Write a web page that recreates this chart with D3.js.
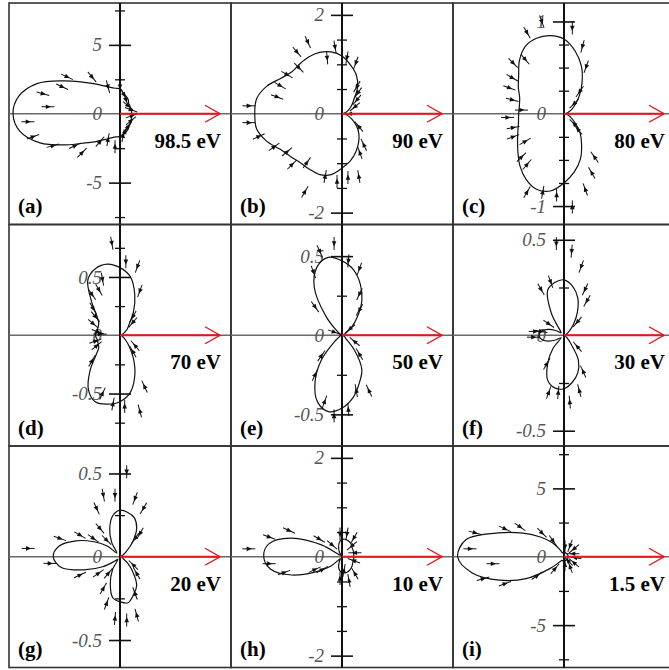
<!DOCTYPE html>
<html>
<head>
<meta charset="utf-8">
<script src="https://cdn.jsdelivr.net/npm/d3@7"></script>
<style>
  body { margin: 0; background: #fff; }
  text { font-family: "Liberation Serif", "Times New Roman", serif; }
</style>
</head>
<body>
<div id="chart"></div>
<script>
// panel tags and photon energies
var tags = ["(a)", "(b)", "(c)", "(d)", "(e)", "(f)", "(g)", "(h)", "(i)"];
var energies = ["98.5 eV", "90 eV", "80 eV", "70 eV", "50 eV", "30 eV", "20 eV", "10 eV", "1.5 eV"];

// half range of each panel (data units)
var axisMax = [8.04, 2.24, 1.2, 0.95, 0.7, 0.58, 0.665, 2.24, 8.1];

// ticks on the vertical axis
var majorTicks = [[-5, 0, 5], [-2, 0, 2], [-1, 0, 1], [-0.5, 0, 0.5], [-0.5, 0, 0.5], [-0.5, 0, 0.5], [-0.5, 0, 0.5], [-2, 0, 2], [-5, 0, 5]];
var tickLabels = [["-5", "0", "5"], ["-2", "0", "2"], ["-1", "0", "1"], ["-0.5", "0", "0.5"], ["-0.5", "0", "0.5"], ["-0.5", "0", "0.5"], ["-0.5", "0", "0.5"], ["-2", "0", "2"], ["-5", "0", "5"]];
var minorTicks = [
  [-7.5, -2.5, 2.5, 7.5],
  [-1.5, -1, -0.5, 0.5, 1, 1.5],
  [-0.75, -0.5, -0.25, 0.25, 0.5, 0.75],
  [-0.75, -0.25, 0.25, 0.75],
  [-0.25, 0.25],
  [-0.25, 0.25],
  [-0.25, 0.25],
  [-1.5, -1, -0.5, 0.5, 1, 1.5],
  [-7.5, -2.5, 2.5, 7.5]
];

// polar angles (deg) of the sampled intensities
var angles = d3.range(0, 360, 10);

// intensity r(theta), one value per angle
var rA = [0.85, 0.85, 0.85, 0.86, 0.93, 0.98, 1.19, 1.33, 1.51, 1.81, 1.88, 2.04, 2.34, 2.83, 3.58, 4.78, 6.4, 7.43, 7.75,
          7.36, 6.17, 4.52, 3.3, 2.61, 2.15, 1.87, 1.71, 1.64, 1.47, 1.37, 1.22, 1.08, 1.03, 0.94, 0.89, 0.86];
var rB = [0.05, 0.04, 0.08, 0.15, 0.25, 0.37, 0.63, 0.84, 1.0, 1.17, 1.27, 1.32, 1.33, 1.32, 1.32, 1.43, 1.62, 1.75, 1.76,
          1.75, 1.62, 1.44, 1.35, 1.3, 1.3, 1.31, 1.25, 1.1, 0.97, 0.82, 0.67, 0.53, 0.38, 0.24, 0.14, 0.08];
var rC = [0.02, 0.03, 0.05, 0.1, 0.16, 0.26, 0.39, 0.55, 0.69, 0.81, 0.86, 0.87, 0.84, 0.75, 0.64, 0.57, 0.51, 0.49, 0.49,
          0.5, 0.53, 0.58, 0.65, 0.74, 0.82, 0.87, 0.85, 0.75, 0.64, 0.52, 0.38, 0.27, 0.16, 0.09, 0.05, 0.03];
var rD = [0.01, 0.01, 0.02, 0.04, 0.08, 0.12, 0.23, 0.37, 0.51, 0.58, 0.62, 0.61, 0.55, 0.38, 0.26, 0.21, 0.2, 0.2, 0.21,
          0.2, 0.2, 0.21, 0.27, 0.4, 0.54, 0.61, 0.6, 0.57, 0.5, 0.37, 0.23, 0.12, 0.06, 0.03, 0.02, 0.01];
var rE = [0, 0, 0.01, 0.03, 0.08, 0.15, 0.25, 0.34, 0.42, 0.47, 0.5, 0.46, 0.35, 0.16, 0.04, 0.01, 0, 0, 0,
          0, 0.01, 0.02, 0.06, 0.2, 0.34, 0.45, 0.49, 0.46, 0.4, 0.32, 0.25, 0.12, 0.03, 0.02, 0.01, 0];
var rF = [0, 0.01, 0.01, 0.02, 0.04, 0.08, 0.14, 0.21, 0.26, 0.29, 0.28, 0.25, 0.13, 0.03, 0.02, 0.05, 0.09, 0.12, 0.13,
          0.12, 0.09, 0.05, 0.02, 0.09, 0.17, 0.25, 0.28, 0.28, 0.25, 0.21, 0.15, 0.05, 0.02, 0.01, 0.01, 0];
var rG = [0, 0, 0.01, 0.02, 0.05, 0.12, 0.2, 0.25, 0.27, 0.28, 0.25, 0.18, 0.1, 0.03, 0.1, 0.18, 0.28, 0.37, 0.4,
          0.36, 0.23, 0.12, 0.04, 0.02, 0.09, 0.17, 0.25, 0.27, 0.28, 0.24, 0.2, 0.12, 0.06, 0.02, 0.01, 0];
var rH = [0.24, 0.24, 0.25, 0.26, 0.27, 0.3, 0.33, 0.35, 0.36, 0.35, 0.3, 0.2, 0.1, 0.04, 0.05, 0.48, 1.1, 1.5, 1.58,
          1.46, 1.08, 0.61, 0.3, 0.05, 0.1, 0.2, 0.28, 0.32, 0.33, 0.33, 0.31, 0.29, 0.27, 0.25, 0.24, 0.24];
var rI = [0.3, 0.3, 0.3, 0.3, 0.3, 0.3, 0.3, 0.3, 0.3, 0.3, 0.3, 0.3, 0.6, 1.35, 2.25, 3.45, 5.1, 7.25, 7.76,
          6.8, 5.0, 3.2, 1.35, 0.5, 0.3, 0.3, 0.3, 0.3, 0.3, 0.3, 0.3, 0.3, 0.3, 0.3, 0.3, 0.3];

// polarisation arrows: [x, y, direction in deg]
var arrowsA = [[-3.84, 2.68, -25], [-2.03, 2.68, -50], [-4.2, 1.96, -25], [-5.58, 1.45, -15], [-5.22, 0.51, 0], [-6.67, -0.58, 0],
  [-6.3, -1.67, 20], [-4.86, -2.32, 15], [-3.26, -2.32, 25], [-2.75, -2.83, 45], [-1.45, -2.03, 50], [-0.87, -1.88, 80],
  [-0.36, -2.39, 90], [-0.87, 1.96, -75], [0, 1.96, -90], [0.29, 1.38, -60], [0.43, 1.01, -70], [0.58, 0.58, -40],
  [0.8, 0.29, -20], [0.87, -0.14, 20], [0.8, -0.51, 40], [0.58, -0.94, 60], [0.36, -1.3, 70], [0.22, -1.6, 80]];
var arrowsB = [[-0.69, 1.45, -65], [-0.14, 1.35, -80], [-0.3, 1.13, -85], [-0.91, 1.25, -50], [-0.87, 0.93, -45], [-1.11, 0.79, -30],
  [-1.25, 0.57, -30], [-1.31, 0.34, -20], [-1.88, 0.16, 0], [-1.88, -0.18, 0], [-1.68, -0.46, 25], [-1.37, -0.67, 35],
  [-1.11, -0.77, 40], [-1.01, -1.03, 45], [-0.71, -0.99, 55], [-0.34, -1.27, 80], [-0.75, -1.58, 60], [-0.1, -1.37, 90],
  [0.12, -1.29, 90], [0.34, -1.27, 100], [0.44, -0.63, 115], [0.36, -0.79, 110], [0.34, -0.26, 130], [0.1, 1.13, -100],
  [0.28, 1.03, -110], [0.3, 0.55, -120], [0.32, 0.42, -125], [0.3, 0.28, -130], [0.26, 0.14, -140], [0.16, 0, 180]];
var arrowsC = [[-0.24, 1.0, -70], [0.09, 0.93, -90], [-0.4, 0.88, -60], [-0.42, 0.59, -50], [-0.55, 0.55, -45], [-0.56, 0.39, -30],
  [-0.59, 0.28, -20], [-0.56, 0.15, -15], [-0.46, 0.04, 0], [-0.61, -0.04, 0], [-0.55, -0.15, 10], [-0.55, -0.25, 20],
  [-0.42, -0.3, 30], [-0.46, -0.47, 45], [-0.4, -0.55, 50], [-0.4, -0.85, 60], [-0.23, -0.85, 80], [-0.08, -0.88, 90],
  [0.09, -1.01, 90], [0.23, -0.82, 110], [0.3, -0.64, 120], [0.33, -0.47, 125], [0.2, 0.73, -105], [0.24, 0.51, -110],
  [0.17, 0.24, -125], [0.11, 0.11, -135], [0.11, -0.11, 135], [0.15, -0.17, 130]];
var arrowsD = [[-0.07, 0.79, -80], [0.05, 0.63, -90], [0.15, 0.59, -110], [-0.15, 0.48, -80], [-0.18, 0.39, -60], [-0.24, 0.35, -55],
  [0.17, 0.38, -110], [-0.23, 0.23, -60], [-0.21, 0.16, -50], [-0.23, 0.1, -40], [-0.17, 0.01, 0], [-0.19, 0.03, -20],
  [-0.21, -0.05, 20], [-0.2, -0.09, 40], [-0.24, -0.22, 60], [0.11, 0.16, -120], [0.11, 0.11, -130], [0.13, -0.09, 130],
  [0.11, -0.14, 120], [0.21, -0.44, 115], [0.04, -0.61, 90], [0.17, -0.65, 105], [-0.06, -0.59, 80], [-0.15, -0.5, 65]];
var arrowsE = [[-0.05, 0.58, -90], [-0.14, 0.53, -65], [0.04, 0.47, -95], [0.11, 0.42, -110], [-0.18, 0.4, -70], [-0.17, 0.18, -55],
  [0.11, 0.26, -115], [0.11, 0.16, -120], [0.05, 0.04, -140], [-0.05, 0.02, -20], [0.08, -0.04, 140], [0.11, -0.12, 120],
  [0.17, -0.35, 115], [0.09, -0.35, 100], [-0.13, -0.13, 55], [-0.17, -0.25, 65], [-0.11, -0.42, 70], [-0.05, -0.51, 90],
  [0.04, -0.47, 95]];
var arrowsF = [[-0.04, 0.48, -90], [0.04, 0.44, -95], [0.09, 0.36, -110], [0.12, 0.18, -120], [0.11, 0.24, -115], [-0.07, 0.28, -70],
  [-0.12, 0.24, -60], [-0.08, 0.06, -35], [-0.15, 0.02, 0], [-0.16, -0.01, 0], [-0.12, 0.02, -10], [0.07, 0.07, -130],
  [0.07, -0.06, 130], [0.1, -0.19, 115], [0.08, -0.29, 105], [0.03, -0.35, 95], [-0.03, -0.3, 85], [-0.08, -0.3, 70],
  [-0.09, -0.15, 60]];
var arrowsG = [[0.04, 0.51, -90], [-0.1, 0.37, -80], [-0.03, 0.37, -90], [0.09, 0.35, -110], [0.14, 0.29, -120], [-0.14, 0.29, -65],
  [-0.12, 0.17, -50], [-0.24, 0.13, -30], [-0.16, 0.11, -35], [-0.08, 0.1, -45], [-0.36, 0.11, -20], [-0.55, 0.05, 0],
  [-0.42, -0.04, 0], [-0.24, -0.11, 25], [-0.13, -0.1, 35], [-0.07, -0.1, 50], [-0.1, -0.19, 60], [-0.08, -0.28, 70],
  [-0.03, -0.37, 85], [0.04, -0.38, 90], [0.1, -0.35, 105], [0.09, -0.22, 110], [0.1, -0.1, 120], [0.08, -0.05, 135],
  [0.12, 0.14, -120], [0.09, 0.11, -125]];
var arrowsH = [[-1.88, 0.16, 0], [-1.47, 0.4, -20], [-1.07, 0.53, -25], [-0.46, 0.36, -30], [-0.2, 0.24, -40], [-1.47, -0.14, 0],
  [-1.17, -0.32, 20], [-0.55, -0.26, 25], [-0.4, -0.26, 30], [-0.04, 0.46, -90], [0.1, 0.46, -100], [0.24, 0.38, -120],
  [0.2, 0.22, -140], [0.26, 0.08, 180], [0.24, -0.08, 160], [0.26, -0.34, 120], [0.14, -0.48, 100], [-0.04, -0.44, 90],
  [0.04, -0.28, 80]];
var arrowsI = [[-6.5, 1.75, -15], [-4.31, 2.04, -25], [-3.21, 2.19, -35], [-1.61, 1.75, -45], [-0.8, 1.17, -55], [-6.86, 0.58, 0],
  [-5.18, -0.51, 0], [-5.91, -1.61, 15], [-4.31, -1.97, 20], [-1.97, -1.39, 35], [-0.66, -0.88, 50], [0.07, 0.73, -90],
  [0.44, 0.8, -110], [0.73, 0.58, -140], [0.66, 0.22, 180], [0.8, -0.07, 170], [0.73, -0.44, 140], [0.44, -0.73, 110],
  [0.07, -0.58, 90], [0.29, -0.29, 135]];

var radii = [rA, rB, rC, rD, rE, rF, rG, rH, rI];
var arrows = [arrowsA, arrowsB, arrowsC, arrowsD, arrowsE, arrowsF, arrowsG, arrowsH, arrowsI];

var panelW = 222, panelH = 221.5;

var svg = d3.select("#chart")
  .append("svg")
    .attr("width", 669)
    .attr("height", 670);

radii.forEach(function(r, i) {
  var col = i % 3, row = Math.floor(i / 3);
  var g = svg.append("g")
    .attr("transform", "translate(" + (9 + col * panelW) + "," + (3 + row * panelH) + ")");

  var x = d3.scaleLinear().domain([-axisMax[i], axisMax[i]]).range([0, panelW]);
  var y = d3.scaleLinear().domain([-axisMax[i], axisMax[i]]).range([panelH, 0]);
  var x0 = x(0), y0 = y(0);

  // panel frame
  g.append("rect")
    .attr("width", panelW).attr("height", panelH)
    .attr("fill", "none").attr("stroke", "#333").attr("stroke-width", 1.6);

  // horizontal axis (gray) and vertical axis (black)
  g.append("line")
    .attr("x1", 0).attr("x2", panelW).attr("y1", y0).attr("y2", y0)
    .attr("stroke", "#6a6a6a").attr("stroke-width", 1.5);
  g.append("line")
    .attr("x1", x0).attr("x2", x0).attr("y1", 0).attr("y2", panelH)
    .attr("stroke", "#111").attr("stroke-width", 2);

  // major ticks with labels
  var major = g.append("g")
    .attr("transform", "translate(" + (x0 + 11) + ",0)")
    .call(d3.axisLeft(y)
      .tickValues(majorTicks[i])
      .tickSize(22)
      .tickPadding(7)
      .tickFormat(function(d, k) { return tickLabels[i][k]; }));
  major.select(".domain").remove();
  major.selectAll(".tick line")
    .attr("stroke", "#111").attr("stroke-width", 1.6)
    .filter(function(d) { return d === 0; }).remove();
  major.selectAll(".tick text")
    .attr("fill", "#555")
    .style("font-family", "'Liberation Serif', serif")
    .style("font-style", "italic")
    .style("font-size", "19px");

  // minor ticks
  var minor = g.append("g")
    .attr("transform", "translate(" + (x0 + 5) + ",0)")
    .call(d3.axisLeft(y).tickValues(minorTicks[i]).tickSize(10).tickFormat(""));
  minor.select(".domain").remove();
  minor.selectAll(".tick line").attr("stroke", "#111").attr("stroke-width", 1.3);

  // intensity curve
  var pts = angles.map(function(a, k) {
    var t = a * Math.PI / 180;
    return [r[k] * Math.cos(t), r[k] * Math.sin(t)];
  });
  var line = d3.line()
    .x(function(d) { return x(d[0]); })
    .y(function(d) { return y(d[1]); })
    .curve(d3.curveCatmullRomClosed.alpha(0.5));
  g.append("path")
    .attr("d", line(pts))
    .attr("fill", "none")
    .attr("stroke", "#111")
    .attr("stroke-width", 1.2);

  // spin arrows
  var arr = g.selectAll(".spin")
    .data(arrows[i])
    .enter().append("g")
      .attr("class", "spin")
      .attr("transform", function(d) {
        return "translate(" + x(d[0]) + "," + y(d[1]) + ") rotate(" + (-d[2]) + ")";
      });
  arr.append("line")
    .attr("x1", -6.5).attr("x2", 6.5)
    .attr("stroke", "#111").attr("stroke-width", 1);
  arr.append("path")
    .attr("d", "M3,0L-2.2,-2.3L-2.2,2.3Z")
    .attr("fill", "#111");

  // incoming light direction (red arrow)
  g.append("line")
    .attr("x1", x0).attr("x2", x0 + 100).attr("y1", y0).attr("y2", y0)
    .attr("stroke", "#e8141c").attr("stroke-width", 2.2);
  g.append("path")
    .attr("d", "M" + (x0 + 85) + "," + (y0 - 8.5) + "L" + (x0 + 100) + "," + y0 + "L" + (x0 + 85) + "," + (y0 + 8.5))
    .attr("fill", "none").attr("stroke", "#e8141c").attr("stroke-width", 1.4);

  // energy label
  g.append("text")
    .attr("x", x0 + 101).attr("y", y0 + 34)
    .attr("text-anchor", "end")
    .style("font-weight", "bold").style("font-size", "21px")
    .text(energies[i]);

  // panel tag
  g.append("text")
    .attr("x", 9).attr("y", 210)
    .style("font-weight", "bold").style("font-size", "21px")
    .text(tags[i]);
});
</script>
</body>
</html>
